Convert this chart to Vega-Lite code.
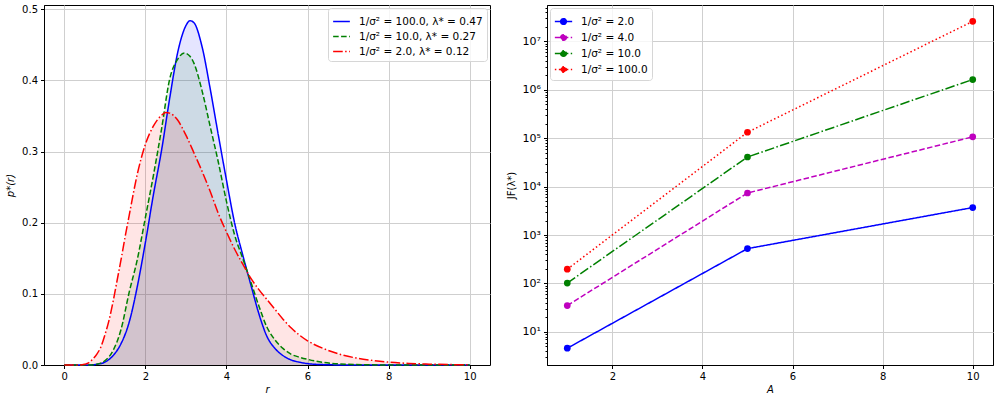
{
  "$schema": "https://vega.github.io/schema/vega-lite/v6.json",
  "padding": {"left": 5, "top": 3, "right": 3, "bottom": 4},
  "background": "white",
  "config": {
    "font": "DejaVu Sans",
    "view": {"stroke": "#000000", "strokeWidth": 1},
    "axis": {
      "domainColor": "#000000", "tickColor": "#000000", "tickSize": 3.5,
      "labelColor": "#000000", "labelFontSize": 10, "labelFont": "DejaVu Sans", "labelPadding": 3,
      "titleColor": "#000000", "titleFontSize": 10, "titleFontWeight": "normal", "titleFont": "DejaVu Sans", "titleFontStyle": "italic",
      "gridColor": "#cfcfcf", "gridWidth": 1
    },
    "legend": {
      "labelFont": "DejaVu Sans", "labelFontSize": 10.5, "labelColor": "#000000",
      "fillColor": "rgba(255,255,255,0.8)", "strokeColor": "#d6d6d6", "cornerRadius": 3, "padding": 4,
      "rowPadding": 0, "symbolStrokeWidth": 1.5, "labelOffset": 8, "symbolOpacity": 1
    }
  },
  "datasets": {
    "curves": [
      {"r": 0, "p": 0, "s": "1/σ² = 100.0, λ* = 0.47"},
      {"r": 0.6, "p": 0, "s": "1/σ² = 100.0, λ* = 0.47"},
      {"r": 0.8, "p": 0.001, "s": "1/σ² = 100.0, λ* = 0.47"},
      {"r": 1.0, "p": 0.004, "s": "1/σ² = 100.0, λ* = 0.47"},
      {"r": 1.2, "p": 0.013, "s": "1/σ² = 100.0, λ* = 0.47"},
      {"r": 1.4, "p": 0.03, "s": "1/σ² = 100.0, λ* = 0.47"},
      {"r": 1.6, "p": 0.06, "s": "1/σ² = 100.0, λ* = 0.47"},
      {"r": 1.8, "p": 0.11, "s": "1/σ² = 100.0, λ* = 0.47"},
      {"r": 2.0, "p": 0.172, "s": "1/σ² = 100.0, λ* = 0.47"},
      {"r": 2.2, "p": 0.24, "s": "1/σ² = 100.0, λ* = 0.47"},
      {"r": 2.4, "p": 0.302, "s": "1/σ² = 100.0, λ* = 0.47"},
      {"r": 2.6, "p": 0.375, "s": "1/σ² = 100.0, λ* = 0.47"},
      {"r": 2.8, "p": 0.44, "s": "1/σ² = 100.0, λ* = 0.47"},
      {"r": 3.0, "p": 0.477, "s": "1/σ² = 100.0, λ* = 0.47"},
      {"r": 3.1, "p": 0.484, "s": "1/σ² = 100.0, λ* = 0.47"},
      {"r": 3.2, "p": 0.481, "s": "1/σ² = 100.0, λ* = 0.47"},
      {"r": 3.4, "p": 0.447, "s": "1/σ² = 100.0, λ* = 0.47"},
      {"r": 3.6, "p": 0.388, "s": "1/σ² = 100.0, λ* = 0.47"},
      {"r": 3.8, "p": 0.323, "s": "1/σ² = 100.0, λ* = 0.47"},
      {"r": 4.0, "p": 0.26, "s": "1/σ² = 100.0, λ* = 0.47"},
      {"r": 4.2, "p": 0.2, "s": "1/σ² = 100.0, λ* = 0.47"},
      {"r": 4.4, "p": 0.155, "s": "1/σ² = 100.0, λ* = 0.47"},
      {"r": 4.6, "p": 0.113, "s": "1/σ² = 100.0, λ* = 0.47"},
      {"r": 4.8, "p": 0.072, "s": "1/σ² = 100.0, λ* = 0.47"},
      {"r": 5.0, "p": 0.04, "s": "1/σ² = 100.0, λ* = 0.47"},
      {"r": 5.2, "p": 0.023, "s": "1/σ² = 100.0, λ* = 0.47"},
      {"r": 5.4, "p": 0.013, "s": "1/σ² = 100.0, λ* = 0.47"},
      {"r": 5.6, "p": 0.007, "s": "1/σ² = 100.0, λ* = 0.47"},
      {"r": 5.8, "p": 0.004, "s": "1/σ² = 100.0, λ* = 0.47"},
      {"r": 6.0, "p": 0.002, "s": "1/σ² = 100.0, λ* = 0.47"},
      {"r": 6.4, "p": 0.0005, "s": "1/σ² = 100.0, λ* = 0.47"},
      {"r": 7.0, "p": 0, "s": "1/σ² = 100.0, λ* = 0.47"},
      {"r": 10.0, "p": 0, "s": "1/σ² = 100.0, λ* = 0.47"},

      {"r": 0, "p": 0, "s": "1/σ² = 10.0, λ* = 0.27"},
      {"r": 0.6, "p": 0, "s": "1/σ² = 10.0, λ* = 0.27"},
      {"r": 0.8, "p": 0.001, "s": "1/σ² = 10.0, λ* = 0.27"},
      {"r": 1.0, "p": 0.006, "s": "1/σ² = 10.0, λ* = 0.27"},
      {"r": 1.2, "p": 0.02, "s": "1/σ² = 10.0, λ* = 0.27"},
      {"r": 1.4, "p": 0.05, "s": "1/σ² = 10.0, λ* = 0.27"},
      {"r": 1.6, "p": 0.102, "s": "1/σ² = 10.0, λ* = 0.27"},
      {"r": 1.8, "p": 0.148, "s": "1/σ² = 10.0, λ* = 0.27"},
      {"r": 2.0, "p": 0.207, "s": "1/σ² = 10.0, λ* = 0.27"},
      {"r": 2.2, "p": 0.267, "s": "1/σ² = 10.0, λ* = 0.27"},
      {"r": 2.4, "p": 0.332, "s": "1/σ² = 10.0, λ* = 0.27"},
      {"r": 2.6, "p": 0.402, "s": "1/σ² = 10.0, λ* = 0.27"},
      {"r": 2.8, "p": 0.43, "s": "1/σ² = 10.0, λ* = 0.27"},
      {"r": 2.96, "p": 0.4385, "s": "1/σ² = 10.0, λ* = 0.27"},
      {"r": 3.1, "p": 0.434, "s": "1/σ² = 10.0, λ* = 0.27"},
      {"r": 3.2, "p": 0.424, "s": "1/σ² = 10.0, λ* = 0.27"},
      {"r": 3.4, "p": 0.385, "s": "1/σ² = 10.0, λ* = 0.27"},
      {"r": 3.6, "p": 0.335, "s": "1/σ² = 10.0, λ* = 0.27"},
      {"r": 3.8, "p": 0.285, "s": "1/σ² = 10.0, λ* = 0.27"},
      {"r": 4.0, "p": 0.23, "s": "1/σ² = 10.0, λ* = 0.27"},
      {"r": 4.2, "p": 0.183, "s": "1/σ² = 10.0, λ* = 0.27"},
      {"r": 4.4, "p": 0.15, "s": "1/σ² = 10.0, λ* = 0.27"},
      {"r": 4.6, "p": 0.117, "s": "1/σ² = 10.0, λ* = 0.27"},
      {"r": 4.8, "p": 0.083, "s": "1/σ² = 10.0, λ* = 0.27"},
      {"r": 5.0, "p": 0.053, "s": "1/σ² = 10.0, λ* = 0.27"},
      {"r": 5.2, "p": 0.035, "s": "1/σ² = 10.0, λ* = 0.27"},
      {"r": 5.4, "p": 0.023, "s": "1/σ² = 10.0, λ* = 0.27"},
      {"r": 5.6, "p": 0.015, "s": "1/σ² = 10.0, λ* = 0.27"},
      {"r": 5.8, "p": 0.011, "s": "1/σ² = 10.0, λ* = 0.27"},
      {"r": 6.0, "p": 0.008, "s": "1/σ² = 10.0, λ* = 0.27"},
      {"r": 6.2, "p": 0.0055, "s": "1/σ² = 10.0, λ* = 0.27"},
      {"r": 6.6, "p": 0.0023, "s": "1/σ² = 10.0, λ* = 0.27"},
      {"r": 7.0, "p": 0.001, "s": "1/σ² = 10.0, λ* = 0.27"},
      {"r": 7.6, "p": 0.0002, "s": "1/σ² = 10.0, λ* = 0.27"},
      {"r": 8.0, "p": 0, "s": "1/σ² = 10.0, λ* = 0.27"},
      {"r": 10.0, "p": 0, "s": "1/σ² = 10.0, λ* = 0.27"},

      {"r": 0, "p": 0, "s": "1/σ² = 2.0, λ* = 0.12"},
      {"r": 0.4, "p": 0, "s": "1/σ² = 2.0, λ* = 0.12"},
      {"r": 0.5, "p": 0.001, "s": "1/σ² = 2.0, λ* = 0.12"},
      {"r": 0.6, "p": 0.003, "s": "1/σ² = 2.0, λ* = 0.12"},
      {"r": 0.7, "p": 0.008, "s": "1/σ² = 2.0, λ* = 0.12"},
      {"r": 0.8, "p": 0.015, "s": "1/σ² = 2.0, λ* = 0.12"},
      {"r": 0.9, "p": 0.025, "s": "1/σ² = 2.0, λ* = 0.12"},
      {"r": 1.0, "p": 0.042, "s": "1/σ² = 2.0, λ* = 0.12"},
      {"r": 1.1, "p": 0.062, "s": "1/σ² = 2.0, λ* = 0.12"},
      {"r": 1.2, "p": 0.088, "s": "1/σ² = 2.0, λ* = 0.12"},
      {"r": 1.3, "p": 0.118, "s": "1/σ² = 2.0, λ* = 0.12"},
      {"r": 1.4, "p": 0.148, "s": "1/σ² = 2.0, λ* = 0.12"},
      {"r": 1.5, "p": 0.18, "s": "1/σ² = 2.0, λ* = 0.12"},
      {"r": 1.6, "p": 0.21, "s": "1/σ² = 2.0, λ* = 0.12"},
      {"r": 1.8, "p": 0.268, "s": "1/σ² = 2.0, λ* = 0.12"},
      {"r": 2.0, "p": 0.31, "s": "1/σ² = 2.0, λ* = 0.12"},
      {"r": 2.2, "p": 0.336, "s": "1/σ² = 2.0, λ* = 0.12"},
      {"r": 2.4, "p": 0.351, "s": "1/σ² = 2.0, λ* = 0.12"},
      {"r": 2.5, "p": 0.355, "s": "1/σ² = 2.0, λ* = 0.12"},
      {"r": 2.6, "p": 0.354, "s": "1/σ² = 2.0, λ* = 0.12"},
      {"r": 2.8, "p": 0.344, "s": "1/σ² = 2.0, λ* = 0.12"},
      {"r": 3.0, "p": 0.323, "s": "1/σ² = 2.0, λ* = 0.12"},
      {"r": 3.2, "p": 0.298, "s": "1/σ² = 2.0, λ* = 0.12"},
      {"r": 3.4, "p": 0.272, "s": "1/σ² = 2.0, λ* = 0.12"},
      {"r": 3.6, "p": 0.244, "s": "1/σ² = 2.0, λ* = 0.12"},
      {"r": 3.8, "p": 0.213, "s": "1/σ² = 2.0, λ* = 0.12"},
      {"r": 4.0, "p": 0.187, "s": "1/σ² = 2.0, λ* = 0.12"},
      {"r": 4.2, "p": 0.163, "s": "1/σ² = 2.0, λ* = 0.12"},
      {"r": 4.4, "p": 0.142, "s": "1/σ² = 2.0, λ* = 0.12"},
      {"r": 4.6, "p": 0.122, "s": "1/σ² = 2.0, λ* = 0.12"},
      {"r": 4.8, "p": 0.106, "s": "1/σ² = 2.0, λ* = 0.12"},
      {"r": 5.0, "p": 0.092, "s": "1/σ² = 2.0, λ* = 0.12"},
      {"r": 5.2, "p": 0.078, "s": "1/σ² = 2.0, λ* = 0.12"},
      {"r": 5.4, "p": 0.064, "s": "1/σ² = 2.0, λ* = 0.12"},
      {"r": 5.6, "p": 0.052, "s": "1/σ² = 2.0, λ* = 0.12"},
      {"r": 5.8, "p": 0.042, "s": "1/σ² = 2.0, λ* = 0.12"},
      {"r": 6.0, "p": 0.034, "s": "1/σ² = 2.0, λ* = 0.12"},
      {"r": 6.4, "p": 0.023, "s": "1/σ² = 2.0, λ* = 0.12"},
      {"r": 6.8, "p": 0.015, "s": "1/σ² = 2.0, λ* = 0.12"},
      {"r": 7.2, "p": 0.0098, "s": "1/σ² = 2.0, λ* = 0.12"},
      {"r": 7.6, "p": 0.0065, "s": "1/σ² = 2.0, λ* = 0.12"},
      {"r": 8.0, "p": 0.004, "s": "1/σ² = 2.0, λ* = 0.12"},
      {"r": 8.5, "p": 0.0022, "s": "1/σ² = 2.0, λ* = 0.12"},
      {"r": 9.0, "p": 0.0012, "s": "1/σ² = 2.0, λ* = 0.12"},
      {"r": 9.5, "p": 0.0006, "s": "1/σ² = 2.0, λ* = 0.12"},
      {"r": 10.0, "p": 0.0003, "s": "1/σ² = 2.0, λ* = 0.12"}
    ],
    "jf": [
      {"A": 1, "JF": 4.6, "s": "1/σ² = 2.0"},
      {"A": 5, "JF": 525, "s": "1/σ² = 2.0"},
      {"A": 10, "JF": 3700, "s": "1/σ² = 2.0"},
      {"A": 1, "JF": 35, "s": "1/σ² = 4.0"},
      {"A": 5, "JF": 7400, "s": "1/σ² = 4.0"},
      {"A": 10, "JF": 107000, "s": "1/σ² = 4.0"},
      {"A": 1, "JF": 102, "s": "1/σ² = 10.0"},
      {"A": 5, "JF": 41000, "s": "1/σ² = 10.0"},
      {"A": 10, "JF": 1630000, "s": "1/σ² = 10.0"},
      {"A": 1, "JF": 197, "s": "1/σ² = 100.0"},
      {"A": 5, "JF": 133000, "s": "1/σ² = 100.0"},
      {"A": 10, "JF": 26000000, "s": "1/σ² = 100.0"}
    ]
  },
  "hconcat": [
    {
      "width": 446,
      "height": 360,
      "data": {"name": "curves"},
      "layer": [
        {
          "mark": {"type": "area", "opacity": 0.1, "interpolate": "monotone"},
          "encoding": {
            "x": {"field": "r", "type": "quantitative"},
            "y": {"field": "p", "type": "quantitative", "stack": null},
            "color": {"field": "s", "type": "nominal"}
          }
        },
        {
          "mark": {"type": "line", "strokeWidth": 1.5, "interpolate": "monotone"},
          "encoding": {
            "x": {
              "field": "r", "type": "quantitative",
              "scale": {"domain": [-0.5, 10.5], "nice": false, "zero": false},
              "axis": {"title": "r", "values": [0, 2, 4, 6, 8, 10], "format": "d", "titlePadding": 3}
            },
            "y": {
              "field": "p", "type": "quantitative", "stack": null,
              "scale": {"domain": [0, 0.506], "nice": false},
              "axis": {"title": "p*(r)", "values": [0, 0.1, 0.2, 0.3, 0.4, 0.5], "format": ".1f", "titlePadding": 6}
            },
            "color": {
              "field": "s", "type": "nominal",
              "scale": {
                "domain": ["1/σ² = 100.0, λ* = 0.47", "1/σ² = 10.0, λ* = 0.27", "1/σ² = 2.0, λ* = 0.12"],
                "range": ["#0000ff", "#008000", "#ff0000"]
              },
              "legend": {"title": null, "orient": "top-right", "offset": 3, "symbolType": "stroke", "symbolSize": 280, "symbolOpacity": 1}
            },
            "strokeDash": {
              "field": "s", "type": "nominal",
              "scale": {
                "domain": ["1/σ² = 100.0, λ* = 0.47", "1/σ² = 10.0, λ* = 0.27", "1/σ² = 2.0, λ* = 0.12"],
                "range": [[1, 0], [5.55, 2.4], [9.6, 2.4, 1.5, 2.4]]
              },
              "legend": {"title": null, "orient": "top-right", "offset": 3, "symbolType": "stroke", "symbolSize": 280, "symbolOpacity": 1}
            }
          }
        }
      ]
    },
    {
      "width": 446,
      "height": 360,
      "data": {"name": "jf"},
      "layer": [
        {
          "mark": {"type": "line", "strokeWidth": 1.5},
          "encoding": {
            "x": {
              "field": "A", "type": "quantitative",
              "scale": {"domain": [0.55, 10.45], "nice": false, "zero": false},
              "axis": {"title": "A", "values": [2, 4, 6, 8, 10], "format": "d", "titlePadding": 3}
            },
            "y": {
              "field": "JF", "type": "quantitative",
              "scale": {"type": "log", "domain": [2.07, 56600000], "nice": false},
              "axis": {
                "title": "JF(λ*)",
                "titleFontStyle": "normal",
                "titlePadding": 6,
                "labelFontSize": 11,
                "values": [3,4,5,6,7,8,9,10,20,30,40,50,60,70,80,90,100,200,300,400,500,600,700,800,900,1000,2000,3000,4000,5000,6000,7000,8000,9000,10000,20000,30000,40000,50000,60000,70000,80000,90000,100000,200000,300000,400000,500000,600000,700000,800000,900000,1000000,2000000,3000000,4000000,5000000,6000000,7000000,8000000,9000000,10000000,20000000,30000000,40000000,50000000],
                "labelExpr": "abs(log(datum.value)/LN10 - round(log(datum.value)/LN10)) < 0.001 ? '10' + ['⁰','¹','²','³','⁴','⁵','⁶','⁷','⁸'][round(log(datum.value)/LN10)] : ''",
                "tickSize": {"condition": {"test": "abs(log(datum.value)/LN10 - round(log(datum.value)/LN10)) > 0.001", "value": 2}, "value": 3.5},
                "gridOpacity": {"condition": {"test": "abs(log(datum.value)/LN10 - round(log(datum.value)/LN10)) > 0.001", "value": 0}, "value": 1}
              }
            },
            "color": {
              "field": "s", "type": "nominal",
              "scale": {
                "domain": ["1/σ² = 2.0", "1/σ² = 4.0", "1/σ² = 10.0", "1/σ² = 100.0"],
                "range": ["#0000ff", "#bf00bf", "#008000", "#ff0000"]
              },
              "legend": {
                "title": null, "orient": "top-left", "offset": 3,
                "symbolType": "M-1,0H1M0.33,0A0.33,0.33 0 1,1 -0.33,0A0.33,0.33 0 1,1 0.33,0",
                "symbolSize": 300
              }
            },
            "strokeDash": {
              "field": "s", "type": "nominal",
              "scale": {
                "domain": ["1/σ² = 2.0", "1/σ² = 4.0", "1/σ² = 10.0", "1/σ² = 100.0"],
                "range": [[1, 0], [5.55, 2.4], [9.6, 2.4, 1.5, 2.4], [1.5, 2.5]]
              },
              "legend": {
                "title": null, "orient": "top-left", "offset": 3,
                "symbolType": "M-1,0H1M0.33,0A0.33,0.33 0 1,1 -0.33,0A0.33,0.33 0 1,1 0.33,0",
                "symbolSize": 300
              }
            }
          }
        },
        {
          "mark": {"type": "point", "filled": true, "opacity": 1, "size": 45},
          "encoding": {
            "x": {"field": "A", "type": "quantitative"},
            "y": {"field": "JF", "type": "quantitative"},
            "color": {"field": "s", "type": "nominal", "legend": null}
          }
        }
      ]
    }
  ],
  "spacing": 57,
  "bounds": "flush",
  "resolve": {"scale": {"color": "independent", "strokeDash": "independent", "x": "independent", "y": "independent"}}
}
